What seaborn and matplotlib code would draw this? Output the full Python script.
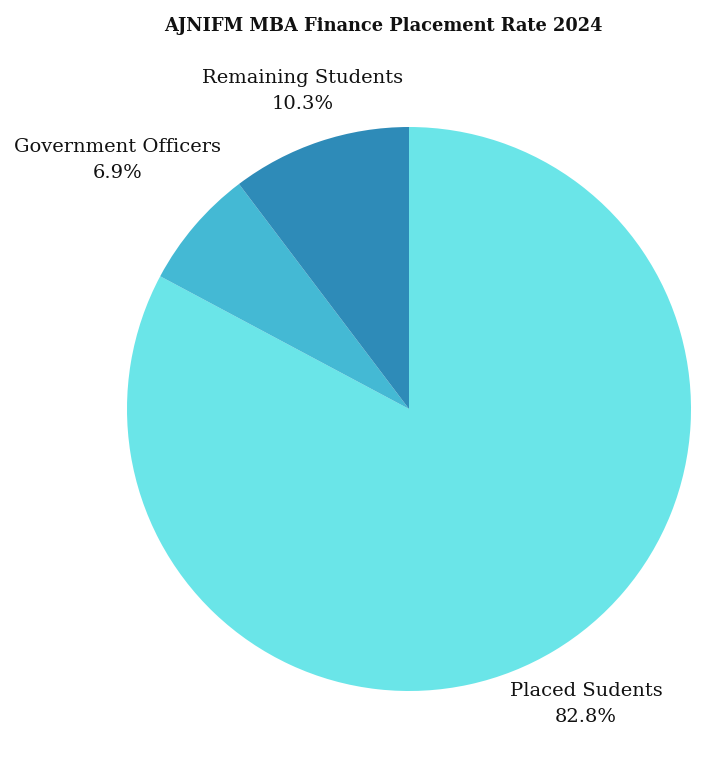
import numpy as np
import matplotlib
matplotlib.use('Agg')
import matplotlib.pyplot as plt
import seaborn as sns

sns.set_theme(style='white')
plt.rcParams['font.family'] = ['DejaVu Serif']

labels = ['Placed Sudents', 'Government Officers', 'Remaining Students']
shares = [82.8, 6.9, 10.3]
colors = ['#6ae5e8', '#44b9d4', '#2e8bb8']
label_dist = [1.22, 1.36, 1.19]

fig = plt.figure(figsize=(7.2, 7.67), dpi=100)
W, H = 720, 767
cx, cy, r = 409, 409, 282
ax = fig.add_axes([(cx - r) / W, (H - cy - r) / H, 2 * r / W, 2 * r / H])

wedges, _ = ax.pie(shares, colors=colors, startangle=90, counterclock=False,
                   wedgeprops=dict(linewidth=0))
ax.set_xlim(-1, 1)
ax.set_ylim(-1, 1)
ax.set_aspect('equal')
ax.axis('off')

for w, lab, val, d in zip(wedges, labels, shares, label_dist):
    mid = np.deg2rad((w.theta1 + w.theta2) / 2)
    ax.text(d * np.cos(mid), d * np.sin(mid), f'{lab}\n{val}%',
            ha='center', va='center', fontsize=14, color='#111111',
            linespacing=1.55, clip_on=False)

fig.text(383 / W, 1 - 26 / H, 'AJNIFM MBA Finance Placement Rate 2024',
         ha='center', va='center', fontsize=12.8, fontweight='bold', color='#111111')

fig.savefig('out.png', dpi=100, facecolor='white')
